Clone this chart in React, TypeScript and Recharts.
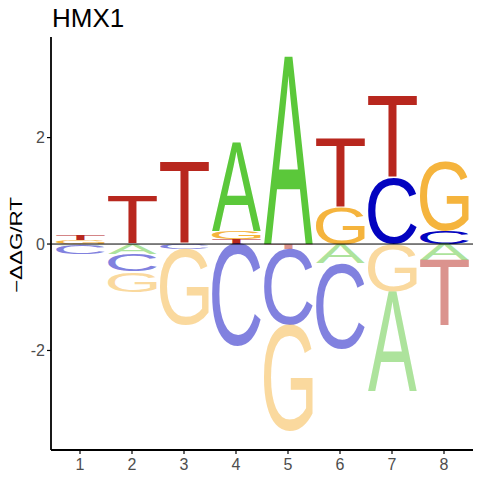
import { BarChart, Bar, XAxis, YAxis, ReferenceLine } from "recharts";

const positions = ["1", "2", "3", "4", "5", "6", "7", "8"];
const letters = ["A", "C", "G", "T"];
const energyA = [-0.03, -0.19, 0, 1.66, 3.53, -0.36, -1.87, -0.3];
const energyC = [-0.16, -0.33, -0.1, -1.93, -1.43, -1.61, 1.23, 0.25];
const energyG = [0.08, -0.38, -1.43, 0.15, -2.0, 0.7, -0.9, 1.3];
const energyT = [0.09, 0.9, 1.54, 0.09, -0.1, 1.3, 1.53, -1.24];
const yTicks = [-2, 0, 2];

const energies: Record<string, number[]> = { A: energyA, C: energyC, G: energyG, T: energyT };
const colors: Record<string, string> = { A: "#5bc83a", C: "#0303c0", G: "#f5b43d", T: "#b8271e" };
const FONT = "Liberation Sans";
const SLOTS = 4;

// positive slots stack upward from 0 (smallest first), negative slots downward (smallest magnitude first)
const data = positions.map((pos, i) => {
  const row: Record<string, string | number> = { pos };
  const up = letters.filter((l) => energies[l][i] > 0).sort((a, b) => energies[a][i] - energies[b][i]);
  const down = letters.filter((l) => energies[l][i] < 0).sort((a, b) => energies[b][i] - energies[a][i]);
  for (let s = 0; s < SLOTS; s++) {
    row[`p${s}`] = up[s] ? energies[up[s]][i] : 0;
    row[`p${s}L`] = up[s] ?? "";
    row[`n${s}`] = down[s] ? energies[down[s]][i] : 0;
    row[`n${s}L`] = down[s] ?? "";
  }
  return row;
});

// ink box of each glyph, so a letter can be stretched to fill its bar
type Ink = { l: number; r: number; a: number; d: number };
const ink: Record<string, Ink> = {};
(() => {
  const ctx = typeof document !== "undefined" ? document.createElement("canvas").getContext("2d") : null;
  for (const l of letters) {
    if (ctx) {
      ctx.font = `100px '${FONT}'`;
      const m = ctx.measureText(l);
      ink[l] = {
        l: m.actualBoundingBoxLeft,
        r: m.actualBoundingBoxRight,
        a: m.actualBoundingBoxAscent,
        d: m.actualBoundingBoxDescent,
      };
    } else {
      ink[l] = { l: 0, r: 66, a: 72, d: 1 };
    }
  }
})();

function Glyph(props: any) {
  const { x, y, width, height, payload, slot } = props;
  const letter = payload?.[`${slot}L`];
  const value = payload?.[slot];
  if (!letter || !value || !height) return null;
  const top = Math.min(y, y + height);
  const h = Math.abs(height);
  const m = ink[letter];
  const sx = width / (m.l + m.r);
  const sy = h / (m.a + m.d);
  return (
    <text
      transform={`translate(${x},${top}) scale(${sx},${sy})`}
      x={m.l}
      y={m.a}
      fontSize={100}
      fontFamily={FONT}
      fill={colors[letter]}
      fillOpacity={value < 0 ? 0.5 : 1}
    >
      {letter}
    </text>
  );
}

const slotKeys = [
  ...Array.from({ length: SLOTS }, (_, s) => `p${s}`),
  ...Array.from({ length: SLOTS }, (_, s) => `n${s}`),
];

const tickStyle = { fill: "#4d4d4d", fontSize: 16, fontFamily: FONT };

export default function App() {
  return (
    <div style={{ position: "fixed", left: 0, top: 0, width: 480, height: 480, background: "#fff" }}>
      <BarChart
        width={480}
        height={480}
        data={data}
        stackOffset="sign"
        barSize={49}
        margin={{ top: 37, right: 7, bottom: 0, left: 0 }}
      >
        <XAxis
          dataKey="pos"
          padding={{ left: 3, right: 3 }}
          height={30}
          tickSize={4}
          tickMargin={5}
          tick={tickStyle}
          axisLine={{ stroke: "#000", strokeWidth: 1.8 }}
          tickLine={{ stroke: "#000", strokeWidth: 1.2 }}
        />
        <YAxis
          type="number"
          domain={[-3.87, 3.89]}
          ticks={yTicks}
          width={51}
          tickSize={4}
          tickMargin={2}
          tick={tickStyle}
          axisLine={{ stroke: "#000", strokeWidth: 1.8 }}
          tickLine={{ stroke: "#000", strokeWidth: 1.2 }}
        />
        {slotKeys.map((k) => (
          <Bar
            key={k}
            dataKey={k}
            stackId="logo"
            isAnimationActive={false}
            shape={(p: any) => <Glyph {...p} slot={k} />}
          />
        ))}
        <ReferenceLine y={0} stroke="#000" strokeWidth={1} />
      </BarChart>
      <svg width={480} height={480} style={{ position: "absolute", left: 0, top: 0, pointerEvents: "none" }}>
        <text x={52} y={27} fontSize={26} fontFamily={FONT} fill="#000">
          HMX1
        </text>
        <text
          transform="translate(22.3,245) rotate(-90)"
          textAnchor="middle"
          fontSize={16}
          fontFamily={FONT}
          fill="#000"
          textLength={96}
          lengthAdjust="spacingAndGlyphs"
        >
          −ΔΔG/RT
        </text>
      </svg>
    </div>
  );
}
